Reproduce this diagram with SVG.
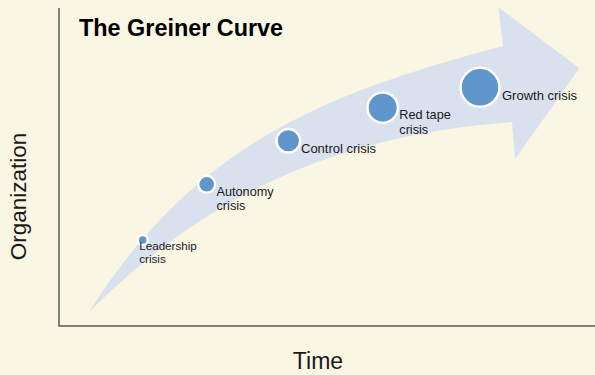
<svg xmlns="http://www.w3.org/2000/svg" width="595" height="375" viewBox="0 0 595 375">
  <style>
    .axis { stroke: #595950; stroke-width: 1.5; fill: none; }
    .band { fill: #D9E0EE; }
    .dot { fill: #6196CC; stroke: #FFFFFF; stroke-width: 2.5; }
    .lbl { font-family: "Liberation Sans", Arial, sans-serif; font-size: 13px; fill: #1A1A1A; }
    .two { font-size: 12.7px; }
    .small { font-size: 11.6px; }
    .axlbl { font-family: "Liberation Sans", Arial, sans-serif; font-size: 22.5px; fill: #1A1A1A; }
    .title { font-family: "Liberation Sans", Arial, sans-serif; font-size: 23.4px; font-weight: bold; fill: #000000; }
  </style>
  <rect x="0" y="0" width="595" height="375" fill="#F9F6E3"/>

  <!-- axes -->
  <g id="axes">
    <path class="axis" d="M59,8 V326 H595"/>
    <text class="axlbl" x="318" y="369" text-anchor="middle" style="font-size:23px">Time</text>
    <text class="axlbl" transform="translate(26,196.5) rotate(-90)" text-anchor="middle">Organization</text>
  </g>

  <text class="title" x="79" y="35.5">The Greiner Curve</text>

  <!-- curved growth arrow -->
  <g id="arrow">
    <path class="band" d="M89.3,311.7 C199.3,135.7 343,89 503,46 L498.3,7.3 L579.3,68.3 L515,159.3 L512,122 C343,134 209.3,191.7 89.3,311.7 Z"/>
  </g>

  <g id="leadership">
    <circle class="dot" cx="142.7" cy="240" r="5"/>
    <text class="lbl small" x="139.3" y="250">Leadership</text>
    <text class="lbl small" x="139.3" y="263">crisis</text>
  </g>
  <g id="autonomy">
    <circle class="dot" cx="206.7" cy="184.3" r="8.5"/>
    <text class="lbl two" x="216.5" y="196">Autonomy</text>
    <text class="lbl two" x="216.5" y="210.2">crisis</text>
  </g>
  <g id="control">
    <circle class="dot" cx="288.3" cy="140.7" r="11.8"/>
    <text class="lbl" x="301" y="152.7">Control crisis</text>
  </g>
  <g id="redtape">
    <circle class="dot" cx="382.7" cy="107.7" r="15.2"/>
    <text class="lbl two" x="399.3" y="119.3">Red tape</text>
    <text class="lbl two" x="399.3" y="133.5">crisis</text>
  </g>
  <g id="growth">
    <circle class="dot" cx="480" cy="87.3" r="19.5"/>
    <text class="lbl" x="502" y="99.5">Growth crisis</text>
  </g>
</svg>
